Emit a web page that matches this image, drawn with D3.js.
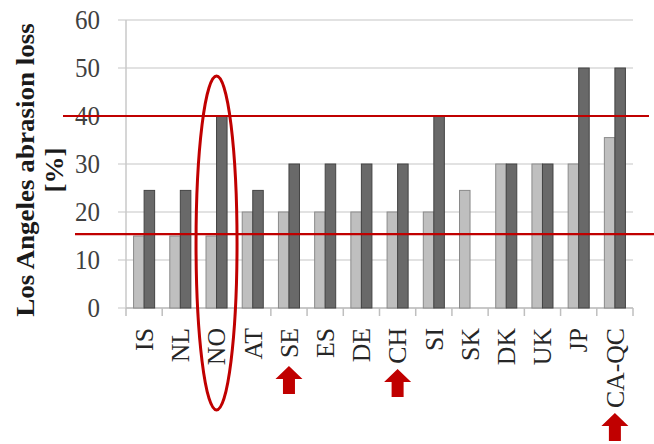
<!DOCTYPE html>
<html><head><meta charset="utf-8">
<script src="https://cdn.jsdelivr.net/npm/d3@7"></script>
<style>html,body{margin:0;padding:0;background:#fff;}svg{display:block;}</style>
</head><body>
<script>
const categories = ["IS","NL","NO","AT","SE","ES","DE","CH","SI","SK","DK","UK","JP","CA-QC"];
const minValues = [15,15,15,20,20,20,20,20,20,24.5,30,30,30,35.5];
const maxValues = [24.5,24.5,40,24.5,30,30,30,30,40,null,30,30,50,50];
const yTicks = [0,10,20,30,40,50,60];
const limitLines = [40,15.4];
const highlighted = ["SE","CH","CA-QC"];
const circled = "NO";

const W=654,H=444;
const m={left:126,right:21,top:20,bottom:136};
const svg=d3.select("body").append("svg").attr("width",W).attr("height",H);
const x=d3.scaleBand().domain(categories).range([m.left,W-m.right]);
const bw=x.bandwidth();
const x1=d3.scaleBand().domain(["min","max"]).range([0,bw]).paddingOuter(0.72);
const y=d3.scaleLinear().domain([0,60]).range([H-m.bottom,m.top]);
const font="'Liberation Serif','Times New Roman',serif";

// gridlines
svg.append("g").selectAll("line").data(yTicks).join("line")
  .attr("x1",m.left-8).attr("x2",W-m.right).attr("y1",d=>y(d)).attr("y2",d=>y(d))
  .attr("stroke","#d9d9d9").attr("stroke-width",1.5);
// y axis line
svg.append("line").attr("x1",m.left).attr("x2",m.left).attr("y1",y(0)).attr("y2",y(60))
  .attr("stroke","#c8c8c8").attr("stroke-width",1.5);
// x axis line and ticks
svg.append("line").attr("x1",m.left).attr("x2",W-m.right).attr("y1",y(0)).attr("y2",y(0))
  .attr("stroke","#bfbfbf").attr("stroke-width",1.5);
const bounds=categories.map(c=>x(c)).concat([x(categories[categories.length-1])+bw]);
svg.append("g").selectAll("line").data(bounds).join("line")
  .attr("x1",d=>d).attr("x2",d=>d).attr("y1",y(0)).attr("y2",y(0)+8)
  .attr("stroke","#bfbfbf").attr("stroke-width",1.5);

// y tick labels
svg.append("g").selectAll("text").data(yTicks).join("text")
  .attr("transform",d=>`translate(${m.left-26},${y(d)}) scale(1,1.07)`)
  .attr("dy","0.35em")
  .attr("text-anchor","end").attr("font-family",font).attr("font-size",25)
  .attr("fill","#404040").text(d=>d);

// bars
const rows=categories.map((c,i)=>({c,min:minValues[i],max:maxValues[i]}));
const g=svg.append("g");
rows.forEach(r=>{
  if(r.min!=null) g.append("rect").attr("x",x(r.c)+x1("min")).attr("width",x1.bandwidth())
    .attr("y",y(r.min)).attr("height",y(0)-y(r.min))
    .attr("fill","#bfbfbf").attr("stroke","#8a8a8a").attr("stroke-width",1);
  if(r.max!=null) g.append("rect").attr("x",x(r.c)+x1("max")).attr("width",x1.bandwidth())
    .attr("y",y(r.max)).attr("height",y(0)-y(r.max))
    .attr("fill","#696969").attr("stroke","#444").attr("stroke-width",1);
});

// category labels
svg.append("g").selectAll("text").data(categories).join("text")
  .attr("transform",d=>`translate(${x(d)+bw/2},${y(0)+20}) rotate(-90) scale(1.03,1)`)
  .attr("text-anchor","end").attr("dy","0.35em")
  .attr("font-family",font).attr("font-size",25).attr("fill","#262626").text(d=>d);

// y title
const tt=svg.append("text").attr("transform",`translate(34,170) rotate(-90) scale(1.04,1)`)
  .attr("text-anchor","middle").attr("font-family",font).attr("font-weight","bold")
  .attr("font-size",26).attr("fill","#1a1a1a");
tt.append("tspan").attr("x",0).attr("y",0).text("Los Angeles abrasion loss");
tt.append("tspan").attr("x",0).attr("y",29).text("[%]");

// red annotation lines
const red="#c00000";
svg.append("line").attr("x1",63).attr("x2",649).attr("y1",y(limitLines[0])).attr("y2",y(limitLines[0]))
  .attr("stroke",red).attr("stroke-width",2.2);
svg.append("line").attr("x1",75).attr("x2",654).attr("y1",y(limitLines[1])).attr("y2",y(limitLines[1]))
  .attr("stroke",red).attr("stroke-width",2.2);

// ellipse around NO
svg.append("ellipse").attr("cx",x(circled)+bw/2).attr("cy",243).attr("rx",20.5).attr("ry",167)
  .attr("fill","none").attr("stroke",red).attr("stroke-width",3);

// arrows
const tips={"SE":366,"CH":369,"CA-QC":413};
highlighted.forEach(c=>{
  const cx=x(c)+bw/2, t=tips[c];
  const pts=[[cx,t],[cx+13.5,t+13],[cx+6,t+13],[cx+6,t+28],[cx-6,t+28],[cx-6,t+13],[cx-13.5,t+13]];
  svg.append("polygon").attr("points",pts.map(p=>p.join(",")).join(" ")).attr("fill",red);
});
</script>
</body></html>
